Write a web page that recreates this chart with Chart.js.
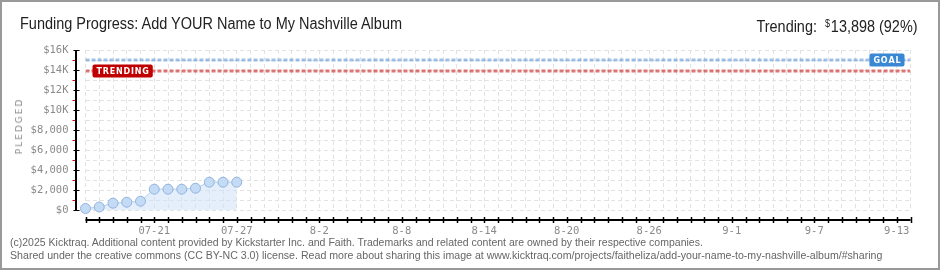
<!DOCTYPE html>
<html>
<head>
<meta charset="utf-8">
<script src="https://cdn.jsdelivr.net/npm/chart.js@4.4.1/dist/chart.umd.min.js"></script>
<style>
  html, body { margin: 0; padding: 0; background: #fff; }
  #wrap { position: relative; width: 940px; height: 270px; overflow: hidden; background: #fff; }
  #chart { position: absolute; left: 0; top: 0; }
  #frame { position: absolute; left: 0; top: 0; width: 940px; height: 270px; box-sizing: border-box;
    border: 2px solid #999; pointer-events: none; }
  .fit { position: absolute; white-space: nowrap; }
  #title { left: 20px; top: 16px; font: 16px/16px "Liberation Sans Narrow", sans-serif; color: #222; transform-origin: left top; }
  #trend { right: 22px; top: 16px; font: 16px/16px "Liberation Sans Narrow", sans-serif; color: #222; transform-origin: right top; }
  #trend sup { font-size: 10px; vertical-align: 5px; margin-right: 1px; }
  #ylab { left: 19px; top: 126px; font: 9px "DejaVu Sans", sans-serif; color: #888; letter-spacing: 2px;
    transform: translate(-50%, -50%) rotate(-90deg); white-space: nowrap; position: absolute; }
  .foot { left: 10px; font: 10px/12px "Liberation Sans Narrow", sans-serif; color: #666; transform-origin: left top; }
  #f1 { top: 237px; }
  #f2 { top: 250px; }
</style>
</head>
<body>
<div id="wrap">
  <canvas id="chart" width="940" height="270"></canvas>
  <div id="title" class="fit" data-w="382">Funding Progress: Add YOUR Name to My Nashville Album</div>
  <div id="trend" class="fit" data-w="161"></div>
  <div id="ylab">PLEDGED</div>
  <div id="f1" class="fit foot" data-w="693">(c)2025 Kicktraq. Additional content provided by Kickstarter Inc. and Faith. Trademarks and related content are owned by their respective companies.</div>
  <div id="f2" class="fit foot" data-w="872">Shared under the creative commons (CC BY-NC 3.0) license. Read more about sharing this image at www.kicktraq.com/projects/faitheliza/add-your-name-to-my-nashville-album/#sharing</div>
  <div id="frame"></div>
</div>
<script>
// ---- data ----
const dates   = ['07-16','07-17','07-18','07-19','07-20','07-21','07-22','07-23','07-24','07-25','07-26','07-27'];
const pledged = [150, 300, 680, 780, 880, 2080, 2080, 2080, 2180, 2780, 2780, 2780];
const axisStart = '07-16';
const axisEnd   = '09-14';
const tickLabels = ['07-21','07-27','8-2','8-8','8-14','8-20','8-26','9-1','9-7','9-13'];
const goal  = 15000;
const trend = 13898;
const yMax  = 16000;

// day offset from axis start
function dayOf(s) {
  const [m, d] = s.split('-').map(Number);
  return Date.UTC(2025, m - 1, d) / 86400000;
}
const d0 = dayOf(axisStart);
const span = dayOf(axisEnd) - d0;
const labelAt = {};
tickLabels.forEach(l => { labelAt[dayOf(l) - d0] = l; });

const points = dates.map((d, i) => ({ x: dayOf(d) - d0, y: pledged[i] }));

// header text
document.getElementById('trend').innerHTML =
  'Trending:&nbsp; <sup>$</sup>' + trend.toLocaleString('en-US') + ' (' + Math.floor(trend / goal * 100) + '%)';

function yFmt(v) {
  if (v % 2000) return '';
  if (v === 0) return '$0';
  if (v < 10000) return '$' + v.toLocaleString('en-US');
  return '$' + (v / 1000) + 'K';
}

// axis lines, tick marks and GOAL / TRENDING badges
const decor = {
  id: 'decor',
  afterDraw(chart) {
    const { ctx, chartArea: a } = chart;
    const xs = chart.scales.x, ys = chart.scales.y;
    ctx.save();
    // y axis
    const ax = Math.round(a.left - 10) + 0.5;
    ctx.lineWidth = 1;
    ys.ticks.forEach(t => {
      const py = Math.round(ys.getPixelForValue(t.value)) + 0.5;
      ctx.beginPath();
      if (t.value % 2000) { ctx.strokeStyle = '#e00000'; ctx.moveTo(ax - 4, py); ctx.lineTo(ax, py); }
      else { ctx.strokeStyle = '#000'; ctx.moveTo(ax - 3, py); ctx.lineTo(ax + 3, py); }
      ctx.stroke();
    });
    ctx.strokeStyle = '#000';
    ctx.lineWidth = 2;
    ctx.beginPath(); ctx.moveTo(ax - 0.5, a.top); ctx.lineTo(ax - 0.5, a.bottom); ctx.stroke();
    // x axis
    const ay = Math.round(a.bottom + 10);
    ctx.beginPath(); ctx.moveTo(xs.left, ay); ctx.lineTo(xs.right, ay); ctx.stroke();
    ctx.lineWidth = 1.5;
    xs.ticks.forEach(t => {
      const px = Math.round(xs.getPixelForValue(t.value)) + 0.5;
      ctx.beginPath(); ctx.moveTo(px, ay - 3); ctx.lineTo(px, ay + 3); ctx.stroke();
    });
    // badges
    const badge = (txt, color, x, y, alignRight) => {
      ctx.font = 'bold 8px "DejaVu Sans", sans-serif';
      const gap = 0.8;
      let tw = 0;
      for (const ch of txt) tw += ctx.measureText(ch).width + gap;
      const w = tw - gap + 8;
      const bx = alignRight ? x - w : x;
      ctx.fillStyle = color;
      ctx.beginPath();
      ctx.roundRect(bx, y - 6.5, w, 13, 2);
      ctx.fill();
      ctx.fillStyle = '#fff';
      ctx.textBaseline = 'middle';
      ctx.textAlign = 'left';
      let cx = bx + 4;
      for (const ch of txt) { ctx.fillText(ch, cx, y + 0.5); cx += ctx.measureText(ch).width + gap; }
    };
    badge('GOAL', '#3a87d4', a.right - 6, ys.getPixelForValue(goal), true);
    badge('TRENDING', '#c00000', a.left + 7, ys.getPixelForValue(trend), false);
    ctx.restore();
  }
};

const tickFont = { family: '"DejaVu Sans Mono", monospace', size: 10.5 };

new Chart(document.getElementById('chart'), {
  type: 'line',
  data: {
    datasets: [
      {
        data: [{ x: 0, y: goal }, { x: span, y: goal }],
        borderColor: 'rgba(80,140,215,0.55)', borderWidth: 3, borderDash: [4, 2],
        pointRadius: 0, fill: false
      },
      {
        data: [{ x: 0, y: trend }, { x: span, y: trend }],
        borderColor: 'rgba(210,60,60,0.7)', borderWidth: 3, borderDash: [4, 2],
        pointRadius: 0, fill: false
      },
      {
        data: points,
        borderColor: '#b3cff0', borderWidth: 1,
        backgroundColor: 'rgba(205,225,248,0.55)', fill: 'origin',
        pointRadius: 5, pointBackgroundColor: '#c4dbf6', pointBorderColor: '#93b3dc', pointBorderWidth: 1,
        tension: 0, clip: false
      }
    ]
  },
  options: {
    responsive: false,
    animation: false,
    devicePixelRatio: 1,
    layout: { padding: { left: 0, right: 29.5, top: 50, bottom: 30 } },
    plugins: { legend: { display: false }, tooltip: { enabled: false } },
    scales: {
      x: {
        type: 'linear', min: 0, max: span,
        afterFit: s => { s.height = 30; },
        border: { display: false, dash: [4, 3] },
        grid: { color: '#e2e2e2', drawTicks: false },
        ticks: {
          stepSize: 1, autoSkip: false, maxRotation: 0, maxTicksLimit: 100, padding: 15,
          color: '#8a8a8a', font: tickFont,
          callback: v => labelAt[v] || ''
        }
      },
      y: {
        min: 0, max: yMax,
        afterFit: s => { s.width = 85.5; },
        border: { display: false, dash: [4, 3] },
        grid: { color: '#e2e2e2', drawTicks: false },
        ticks: {
          stepSize: 1000, autoSkip: false, maxTicksLimit: 100, padding: 17,
          color: '#8a8a8a', font: tickFont,
          callback: yFmt
        }
      }
    }
  },
  plugins: [decor]
});

// squeeze header/footer text to the widths in the picture
document.querySelectorAll('.fit[data-w]').forEach(el => {
  const w = el.getBoundingClientRect().width;
  const target = +el.dataset.w;
  if (w > 0) el.style.transform = 'scaleX(' + (target / w).toFixed(3) + ')';
});
</script>
</body>
</html>
